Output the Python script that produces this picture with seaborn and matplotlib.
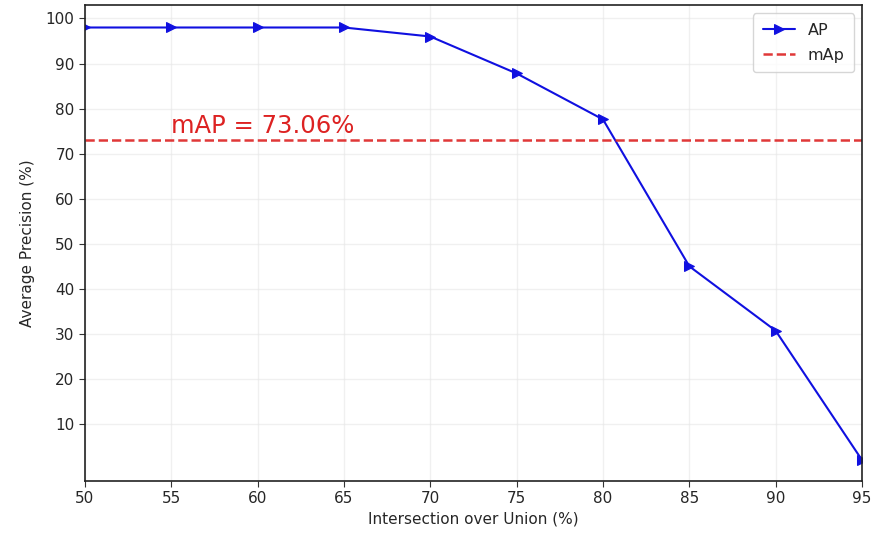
import matplotlib
matplotlib.use("Agg")
import matplotlib.pyplot as plt
import seaborn as sns
import pandas as pd

iou = [50, 55, 60, 65, 70, 75, 80, 85, 90, 95]
ap = [98.0, 98.0, 98.0, 98.0, 96.0, 87.8, 77.6, 45.0, 30.7, 2.0]
map_value = 73.06
x_ticks = [50, 55, 60, 65, 70, 75, 80, 85, 90, 95]
y_ticks = [10, 20, 30, 40, 50, 60, 70, 80, 90, 100]

sns.set_style("ticks")
plt.rcParams['font.family'] = ['DejaVu Sans']

df = pd.DataFrame({"iou": iou, "ap": ap})

fig, ax = plt.subplots(figsize=(8.76, 5.42), dpi=100)
fig.subplots_adjust(left=0.097, right=0.984, top=0.99, bottom=0.113)

sns.lineplot(data=df, x="iou", y="ap", ax=ax, color="#1010e0", marker=">",
             markersize=7, markeredgecolor="#1010e0", linewidth=1.5, label="AP")
ax.axhline(map_value, color="#dd2222", linestyle="--", linewidth=1.8, label="mAp", alpha=0.9)
ax.text(55, map_value + 1.6, f"mAP = {map_value:.2f}%", color="#dd2222", fontsize=17.5)

ax.set_xlim(50, 95)
ax.set_ylim(-2.6, 102.9)
ax.set_xticks(x_ticks)
ax.set_yticks(y_ticks)
ax.grid(True, color="#e6e6e6", alpha=0.6, linewidth=1)
ax.tick_params(labelsize=11, direction="out", length=4, color="#333333")
for s in ax.spines.values():
    s.set_color("#222222")
    s.set_linewidth(1.2)
ax.set_xlabel("Intersection over Union (%)", fontsize=11)
ax.set_ylabel("Average Precision (%)", fontsize=11, labelpad=8)
ax.legend(loc="upper right", fontsize=11.5, frameon=True, borderpad=0.6, labelspacing=0.6)

fig.savefig("out.png", dpi=100)
